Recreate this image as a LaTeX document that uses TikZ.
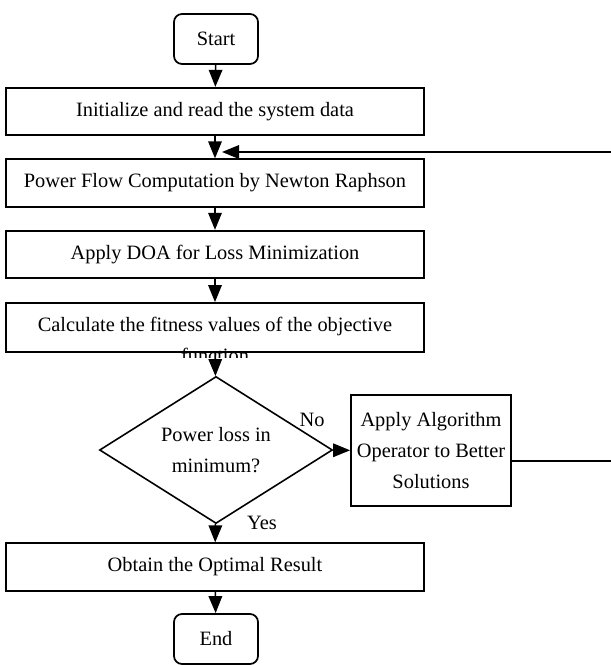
\documentclass[tikz,border=0pt]{standalone}
\usepackage{fontspec}
\setmainfont{Liberation Serif}
\usetikzlibrary{shapes.geometric, arrows.meta}

\begin{document}
\begin{tikzpicture}[
    >={Triangle[length=0.34cm, width=0.27cm]},
    line width=0.9pt,
    font=\fontsize{11.6}{17.4}\selectfont,
    process/.style={draw, rectangle, line width=1pt, minimum width=8.36cm, minimum height=0.95cm, align=center},
    terminal/.style={draw, rectangle, rounded corners=0.16cm, line width=1pt, minimum width=1.68cm, minimum height=1cm},
    decision/.style={draw, diamond, aspect=1.585, inner sep=0pt, minimum width=4.66cm, minimum height=2.94cm, align=center},
    operator/.style={draw, rectangle, line width=1pt, minimum width=3.16cm, minimum height=2.22cm, align=center}
]

% page frame
\useasboundingbox (0,0) rectangle (12.22,13.3);

% -------------------------
% Main column
% -------------------------
\node[terminal] (Start) at (4.32, 12.52) {Start};
\node[process] (Init) at (4.30, 11.07) {Initialize and read the system data};
\node[process] (Flow) at (4.30, 9.64) {Power Flow Computation by Newton Raphson};
\node[process] (DOA) at (4.30, 8.21) {Apply DOA for Loss Minimization};
\node[process, minimum height=0.98cm] (Calc) at (4.30, 6.75) {};
\begin{scope}
    % second line runs out of the box
    \clip ([yshift=-0.09cm]Calc.south west) rectangle (Calc.north east);
    \node[align=center] (CalcText) at (4.30, 6.50) {Calculate the fitness values of the objective\\function};
\end{scope}
\node[decision] (Check) at (4.32, 4.30) {Power loss in\\minimum?};
\node[operator] (Better) at (8.62, 4.29) {Apply Algorithm\\Operator to Better\\Solutions};
\node[process] (Result) at (4.30, 1.96) {Obtain the Optimal Result};
\node[terminal] (End) at (4.32, 0.52) {End};

% -------------------------
% Labels
% -------------------------
\node (No) at (6.24, 4.90) {No};
\node (Yes) at (5.24, 2.84) {Yes};

% -------------------------
% Flow arrows
% -------------------------
\draw[->] (Start) -- (Init);
\draw[->] (Init) -- (Flow);
\draw[->] (Flow) -- (DOA);
\draw[->] (DOA) -- (Calc);
\draw[->] (Calc) -- (Check);
\draw[->] (Check) -- (Better);
\draw[->] (Check) -- (Result);
\draw[->] (Result) -- (End);

% feedback loop (runs off the right edge)
\coordinate (LoopOut) at (12.22, 4.08);
\coordinate (LoopTop) at (12.22, 10.26);
\coordinate (LoopIn) at (4.44, 10.26);
\draw ([yshift=-0.21cm]Better.east) -- (LoopOut);
\draw[->] (LoopTop) -- (LoopIn);

\end{tikzpicture}
\end{document}
